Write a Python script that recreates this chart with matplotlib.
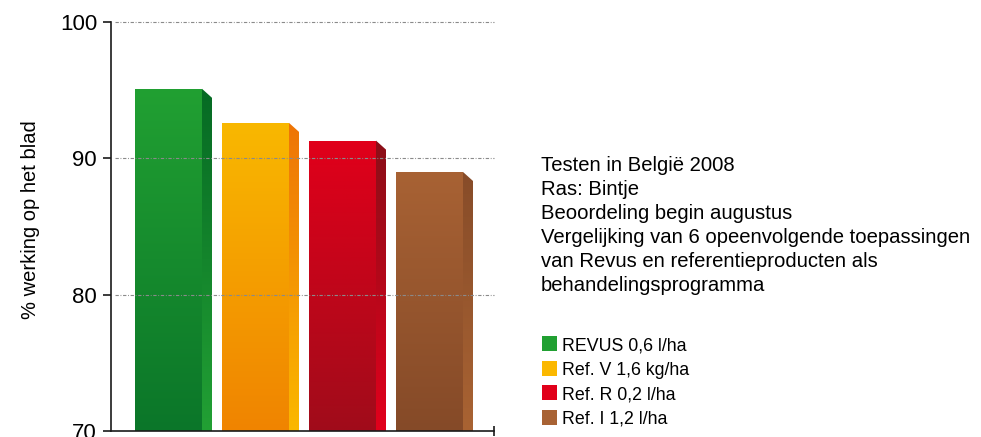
import numpy as np
import matplotlib.pyplot as plt
from matplotlib.colors import LinearSegmentedColormap
from matplotlib.patches import Polygon, Rectangle

plt.rcParams['font.family'] = ['Liberation Sans', 'DejaVu Sans']

## Data
labels = ['REVUS 0,6 l/ha', 'Ref. V 1,6 kg/ha', 'Ref. R 0,2 l/ha', 'Ref. I 1,2 l/ha']
values = [95.1, 92.6, 91.3, 89.0]
# (front top, front bottom, side top, side bottom)
shades = [
    ('#21a032', '#0b7629', '#066a24', '#22a034'),
    ('#f9b800', '#f08400', '#ee7406', '#fbb800'),
    ('#e1001a', '#a00c1a', '#8a0f18', '#e2001c'),
    ('#a86234', '#854a28', '#874c29', '#a96333'),
]
legend_colors = ['#21a032', '#fbb800', '#e1001a', '#a86234']
notes = ['Testen in België 2008',
         'Ras: Bintje',
         'Beoordeling begin augustus',
         'Vergelijking van 6 opeenvolgende toepassingen',
         'van Revus en referentieproducten als',
         'behandelingsprogramma']

W, H = 981, 437
fig = plt.figure(figsize=(W / 100, H / 100), dpi=100)
ax = fig.add_axes([111 / W, 6 / H, 383 / W, 409 / H])

ymin, ymax = 70, 100
xmax = 383 / 87
bar_w = 67 / 87
depth_x, depth_y = 10 / 87, 9 / 13.63


def gradient_fill(ax, verts, top, bottom, ytop):
    poly = Polygon(verts, closed=True, facecolor='none', edgecolor='none')
    ax.add_patch(poly)
    cmap = LinearSegmentedColormap.from_list('g', [top, bottom])
    xs = [v[0] for v in verts]
    grad = np.linspace(0, 1, 256).reshape(-1, 1)
    im = ax.imshow(grad, cmap=cmap, aspect='auto', origin='upper',
                   extent=(min(xs), max(xs), ymin, ytop), zorder=2,
                   interpolation='bilinear')
    im.set_clip_path(poly)


for i, (v, sh) in enumerate(zip(values, shades)):
    x0 = 24 / 87 + i
    x1 = x0 + bar_w
    gradient_fill(ax, [(x0, ymin), (x0, v), (x1, v), (x1, ymin)], sh[0], sh[1], v)
    gradient_fill(ax, [(x1, ymin), (x1, v), (x1 + depth_x, v - depth_y),
                       (x1 + depth_x, ymin)], sh[2], sh[3], v)

ax.set_xlim(0, xmax)
ax.set_ylim(ymin, ymax)

# grid drawn over the bars
for g in [80, 90, 100]:
    ax.plot([4 / 87, xmax], [g, g], color='#8a8a8a', lw=0.8,
            ls=(0, (3, 1.5, 0.8, 1.5)), zorder=3, clip_on=False)

for s in ['top', 'right']:
    ax.spines[s].set_visible(False)
for s in ['left', 'bottom']:
    ax.spines[s].set_linewidth(1.2)
    ax.spines[s].set_color('#1a1a1a')
    ax.spines[s].set_zorder(4)

ax.set_yticks([70, 80, 90, 100])
ax.tick_params(axis='y', direction='out', length=6, width=1.2, pad=4,
               labelsize=16, color='#1a1a1a')
ax.set_xticks([xmax])
ax.set_xticklabels([''])
ax.tick_params(axis='x', direction='inout', length=7, width=1.2, color='#1a1a1a')

fig.text(31 / W, 1 - 220 / H, '% werking op het blad', rotation=90,
         ha='center', va='center', fontsize=14.5)

for k, line in enumerate(notes):
    fig.text(541 / W, 1 - (171 + 24 * k) / H, line, fontsize=14.6,
             ha='left', va='baseline')

for k, (lab, c) in enumerate(zip(labels, legend_colors)):
    top = 336 + 24.5 * k
    fig.patches.append(Rectangle((542 / W, 1 - (top + 15) / H), 15 / W, 15 / H,
                                 transform=fig.transFigure, facecolor=c,
                                 edgecolor='none'))
    fig.text(562 / W, 1 - (top + 14.5) / H, lab, fontsize=12.8,
             ha='left', va='baseline')

fig.savefig('out.png', dpi=100)
